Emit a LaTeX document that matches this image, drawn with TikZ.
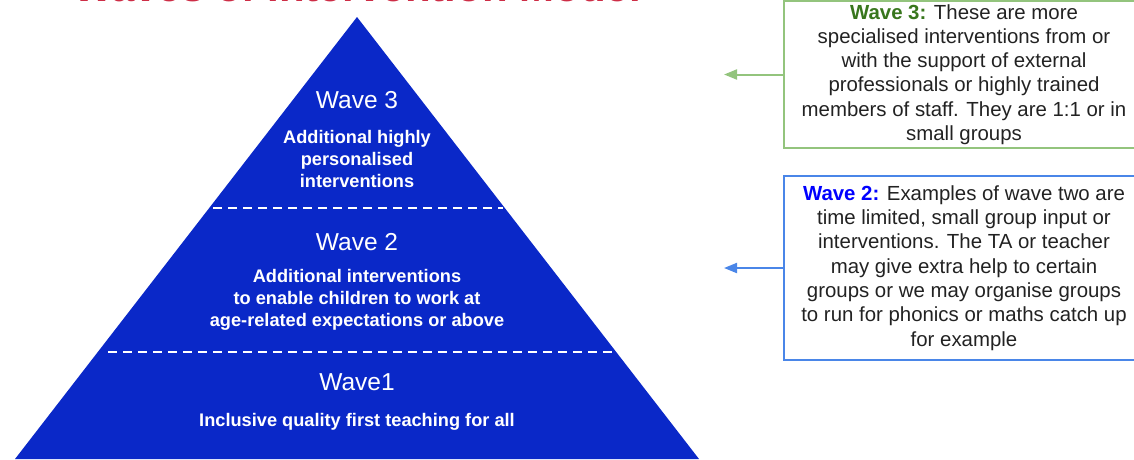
\documentclass[tikz,border=0pt]{standalone}
\usepackage{fontspec}
\setmainfont{Liberation Sans}
\usetikzlibrary{arrows.meta, positioning, calc}
\definecolor{pyrblue}{RGB}{10, 40, 200}
\definecolor{titlered}{RGB}{205, 45, 70}
\definecolor{boxgreen}{RGB}{147, 196, 125}
\definecolor{darkgreen}{RGB}{56, 118, 29}
\definecolor{boxblue}{RGB}{74, 134, 232}
\definecolor{wave2blue}{RGB}{0, 0, 255}
\definecolor{txtgray}{RGB}{34, 34, 34}

\begin{document}
\begin{tikzpicture}[x=1pt, y=-1pt,
    wavehead/.style={text=white, anchor=base, font=\fontsize{24.5}{28}\selectfont},
    wavetext/.style={text=white, align=center, font=\bfseries\fontsize{18.2}{22}\selectfont},
    infobox/.style={draw, line width=2pt, anchor=west, minimum width=360pt, align=center,
        text=txtgray, font=\fontsize{20.4}{24.3}\selectfont},
    pointer/.style={line width=2pt, -{Triangle[length=13pt, width=10pt]}},
    divider/.style={white, line width=2pt, dash pattern=on 9pt off 6pt}]
    \useasboundingbox (0,0) rectangle (1134,459);
    \clip (0,0) rectangle (1134,459);

    % Titel (oben abgeschnitten)
    \node[text=titlered, anchor=base, font=\bfseries\fontsize{42}{48}\selectfont] (title) at (357,1.5) {Waves of Intervention Model};

    % Pyramide
    \coordinate (apex) at (357,17);
    \coordinate (bl) at (15,459);
    \coordinate (br) at (699,459);
    \fill[pyrblue] (apex) -- (bl) -- (br) -- cycle;

    % Trennlinien zwischen den Stufen
    \coordinate (d1l) at ($(apex)!0.432!(bl)$);
    \coordinate (d1r) at ($(apex)!0.432!(br)$);
    \coordinate (d2l) at ($(apex)!0.758!(bl)$);
    \coordinate (d2r) at ($(apex)!0.758!(br)$);
    \draw[divider] ([xshift=4pt]d1l) -- ([xshift=-2pt]d1r);
    \draw[divider] ([xshift=10pt]d2l) -- ([xshift=-4pt]d2r);

    % Stufen
    \node[wavehead] (w3) at (357,108) {Wave 3};
    \node[wavetext] (w3txt) at (357,159) {Additional highly\\personalised\\interventions};
    \node[wavehead] (w2) at (357,250) {Wave 2};
    \node[wavetext] (w2txt) at (357,300) {Additional interventions\\to enable children to work at\\age-related expectations or above};
    \node[wavehead] (w1) at (357,390.5) {Wave1};
    \node[wavetext, anchor=base] (w1txt) at (357,426) {Inclusive quality first teaching for all};

    % Erklaerungen rechts
    \node[infobox, draw=boxgreen, minimum height=143pt] (box3) at (783,74.5)
        {{\bfseries\color{darkgreen}Wave 3:} These are more\\specialised interventions from or\\with the support of external\\professionals or highly trained\\members of staff. They are 1:1 or in\\small groups};
    \node[infobox, draw=boxblue, minimum height=184pt] (box2) at (783,268)
        {{\bfseries\color{wave2blue}Wave 2:} Examples of wave two are\\time limited, small group input or\\interventions. The TA or teacher\\may give extra help to certain\\groups or we may organise groups\\to run for phonics or maths catch up\\for example};

    \coordinate (tip3) at (724,74.5);
    \coordinate (tip2) at (724,268);
    \draw[pointer, boxgreen] (box3.west) -- (tip3);
    \draw[pointer, boxblue] (box2.west) -- (tip2);
\end{tikzpicture}
\end{document}
